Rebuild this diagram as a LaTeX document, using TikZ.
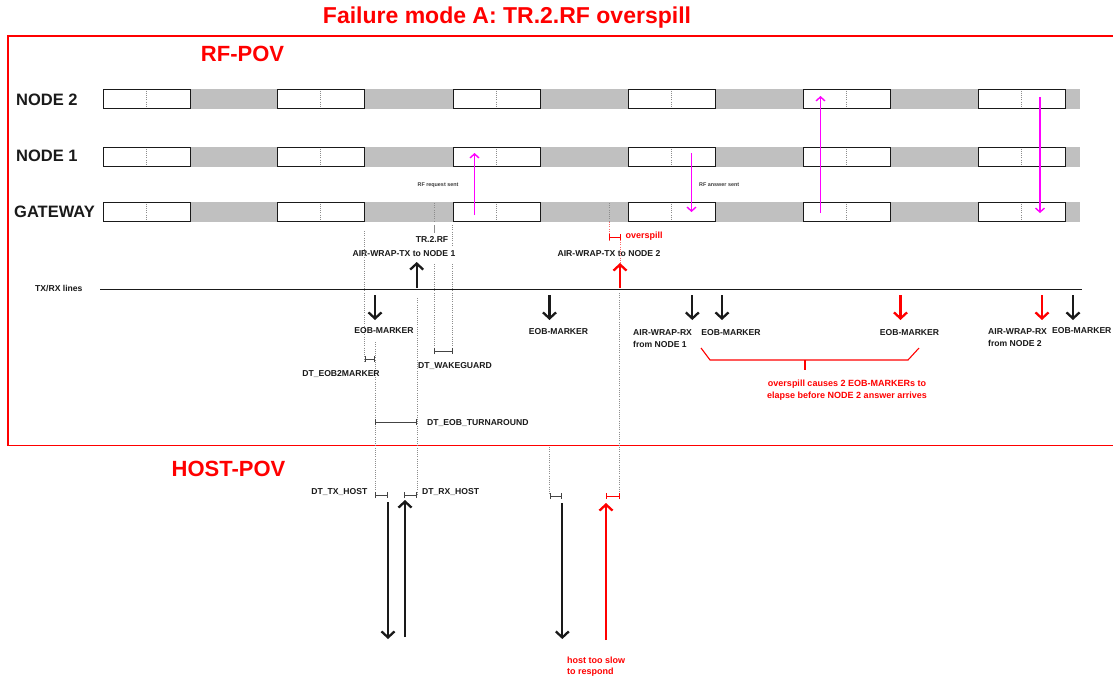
\documentclass[tikz,border=0pt]{standalone}
\usepackage{fontspec}
\setmainfont{Liberation Sans}
\usetikzlibrary{arrows.meta}
\definecolor{band}{HTML}{C0C0C0}
\definecolor{mag}{HTML}{FF00FF}
\definecolor{dgray}{HTML}{444444}
\definecolor{dotg}{HTML}{8C8C8C}
\definecolor{rred}{HTML}{FF0000}
\definecolor{ink}{HTML}{1A1A1A}
\tikzset{
  lbl/.style={font=\fontsize{8.6}{11.5}\selectfont\bfseries, inner sep=0pt, text=ink},
  redlbl/.style={font=\fontsize{9}{12}\selectfont\bfseries, inner sep=0pt, text=rred},
  rowlbl/.style={font=\fontsize{16.5}{18}\selectfont\bfseries, inner sep=0pt, anchor=west, text=ink},
  bigred/.style={font=\fontsize{22}{24}\selectfont\bfseries, text=rred, inner sep=0pt},
  tinylbl/.style={font=\fontsize{5.4}{6}\selectfont\bfseries, inner sep=0pt, text=ink!85},
  slot/.style={draw=ink, fill=white, line width=1pt},
  guide/.style={draw=dotg, line width=0.7pt, dash pattern=on 1pt off 1.2pt},
  redguide/.style={draw=rred!60, line width=0.7pt, dash pattern=on 1pt off 1.2pt},
  thickarrow/.style={line width=2.3pt, -{Straight Barb[length=6pt,width=13pt]}},
  magarrow/.style={draw=mag, line width=1.4pt, -{Straight Barb[length=4pt,width=9pt]}},
  span/.style={draw=dgray, line width=0.9pt, {Bar[width=6pt]}-{Bar[width=6pt]}},
  redspan/.style={draw=rred, line width=0.9pt, {Bar[width=6pt]}-{Bar[width=6pt]}},
}
\begin{document}
\begin{tikzpicture}[x=1pt,y=-1pt]
\useasboundingbox (0,0) rectangle (1113,680);
\fill[white] (0,0) rectangle (1113,680);

% title and frame
\node[bigred, font=\fontsize{23}{25}\selectfont\bfseries] (title) at (507,18) {Failure mode A: TR.2.RF overspill};
\draw[rred, line width=1.4pt] (1120,36) -- (8,36) -- (8,445.5) -- (1120,445.5);
\node[bigred] (rfpov) at (242.5,54) {RF-POV};
\node[bigred] (hostpov) at (228.5,469) {HOST-POV};

% rows
\node[rowlbl] (n2) at (16,100) {NODE 2};
\node[rowlbl] (n1) at (16,156) {NODE 1};
\node[rowlbl] (gw) at (14,212) {GATEWAY};
\foreach \r/\t in {r2/89, r1/147, rg/202}{
  \fill[band] (103,\t) rectangle (1080,\t+19.5);
  \foreach \x [count=\i] in {103,277.5,453,628,803,978}{
    \draw[slot] (\x,\t) rectangle (\x+87,\t+19.5);
    \draw[guide] (\x+43,\t+1.5) -- (\x+43,\t+18);
  }
}
% gateway markers in the gaps
\draw[guide] (434,203) -- (434,221);
\draw[guide] (609,203) -- (609,221);

% magenta RF arrows
\coordinate (m1a) at (474.5,215); \coordinate (m1b) at (474.5,153);
\coordinate (m2a) at (691.5,153); \coordinate (m2b) at (691.5,212);
\coordinate (m3a) at (820.5,213); \coordinate (m3b) at (820.5,96);
\coordinate (m4a) at (1040,97);   \coordinate (m4b) at (1040,213);
\draw[magarrow] (m1a) -- (m1b);
\draw[magarrow] (m2a) -- (m2b);
\draw[magarrow] (m3a) -- (m3b);
\draw[magarrow] (m4a) -- (m4b);
\node[tinylbl] (req) at (438,185.5) {RF request sent};
\node[tinylbl, anchor=west] (ans) at (699,184.5) {RF answer sent};

% TR.2.RF marker and guides
\draw[dotg, line width=1pt] (434,225) -- (434,233);
\node[lbl] (tr2) at (432,239.5) {TR.2.RF};
\node[lbl] (awtx1) at (404,253.5) {AIR-WRAP-TX to NODE 1};
\node[lbl] (awtx2) at (609,253.5) {AIR-WRAP-TX to NODE 2};
\draw[guide] (364.5,231) -- (364.5,361);
\draw[guide] (452.5,225) -- (452.5,246);
\draw[guide] (452.5,264) -- (452.5,351);
\draw[guide] (434,264) -- (434,351);
\draw[guide] (375,342) -- (375,495);
\draw[guide] (417,298) -- (417,495);
\draw[guide] (619.5,293) -- (619.5,495);
\draw[guide] (549.5,447) -- (549.5,495);

% overspill
\draw[redguide] (609,222) -- (609,240);
\draw[redspan] (609,237) -- (621,237);
\node[redlbl, anchor=west] (ovs) at (625.5,236.5) {overspill};
\draw[redguide] (620,240) -- (620,264);

% TX/RX line
\node[lbl, anchor=west] (txrx) at (35,288.5) {TX/RX lines};
\coordinate (lineL) at (100,289.5); \coordinate (lineR) at (1082,289.5);
\draw[ink, line width=1pt] (lineL) -- (lineR);

% arrows on TX/RX line
\coordinate (u1a) at (416.7,288); \coordinate (u1b) at (416.7,262);
\coordinate (u2a) at (620,288);   \coordinate (u2b) at (620,263);
\draw[thickarrow, ink] (u1a) -- (u1b);
\draw[thickarrow, rred] (u2a) -- (u2b);
\foreach \x/\c in {375/ink, 549.5/ink, 692.3/ink, 722/ink, 900.5/rred, 1042/rred, 1073/ink}{
  \draw[thickarrow, \c] (\x,295) -- (\x,320);
}

% labels under the line
\node[lbl] (eob1) at (384,331) {EOB-MARKER};
\node[lbl] (eob2) at (558.5,332) {EOB-MARKER};
\node[lbl, anchor=west, align=left] (awrx1) at (633,338.5) {AIR-WRAP-RX\\from NODE 1};
\node[lbl] (eob3) at (731,333) {EOB-MARKER};
\node[lbl] (eob4) at (909.5,333) {EOB-MARKER};
\node[lbl, anchor=west, align=left] (awrx2) at (988,337.5) {AIR-WRAP-RX\\from NODE 2};
\node[lbl, anchor=west] (eob5) at (1052,331) {EOB-MARKER};

% red brace and note
\draw[rred, line width=1.1pt] (701,348) -- (710,360) -- (908,360) -- (919,348);
\draw[rred, line width=1.1pt] (805,360) -- (805,370);
\node[redlbl, align=center] (note) at (847,390) {overspill causes 2 EOB-MARKERs to\\elapse before NODE 2 answer arrives};

% durations
\draw[span] (364.5,359) -- (375,359);
\node[lbl] (dteob2) at (341,374) {DT\_EOB2MARKER};
\draw[span] (434,351) -- (452.5,351);
\node[lbl, anchor=west] (dtwg) at (418,366.5) {DT\_WAKEGUARD};
\draw[span] (375,422) -- (417,422);
\node[lbl, anchor=west] (dtturn) at (427,423.3) {DT\_EOB\_TURNAROUND};

% host
\draw[span] (375,495) -- (387.5,495);
\node[lbl, anchor=east] (dttx) at (367.5,492) {DT\_TX\_HOST};
\draw[span] (404,495) -- (417,495);
\node[lbl, anchor=west] (dtrx) at (422,492) {DT\_RX\_HOST};
\draw[span] (549.5,496) -- (562,496);
\draw[redspan] (606,496) -- (619.5,496);

\coordinate (h1a) at (388,502); \coordinate (h1b) at (388,639);
\coordinate (h2a) at (405,637); \coordinate (h2b) at (405,500);
\coordinate (h3a) at (562.3,503); \coordinate (h3b) at (562.3,639);
\coordinate (h4a) at (606,640); \coordinate (h4b) at (606,503);
\draw[thickarrow, ink] (h1a) -- (h1b);
\draw[thickarrow, ink] (h2a) -- (h2b);
\draw[thickarrow, ink] (h3a) -- (h3b);
\draw[thickarrow, rred] (h4a) -- (h4b);
\node[redlbl, anchor=west, align=left, font=\fontsize{9}{11.3}\selectfont\bfseries] (slow) at (567,666.5) {host too slow\\to respond};
\end{tikzpicture}
\end{document}
